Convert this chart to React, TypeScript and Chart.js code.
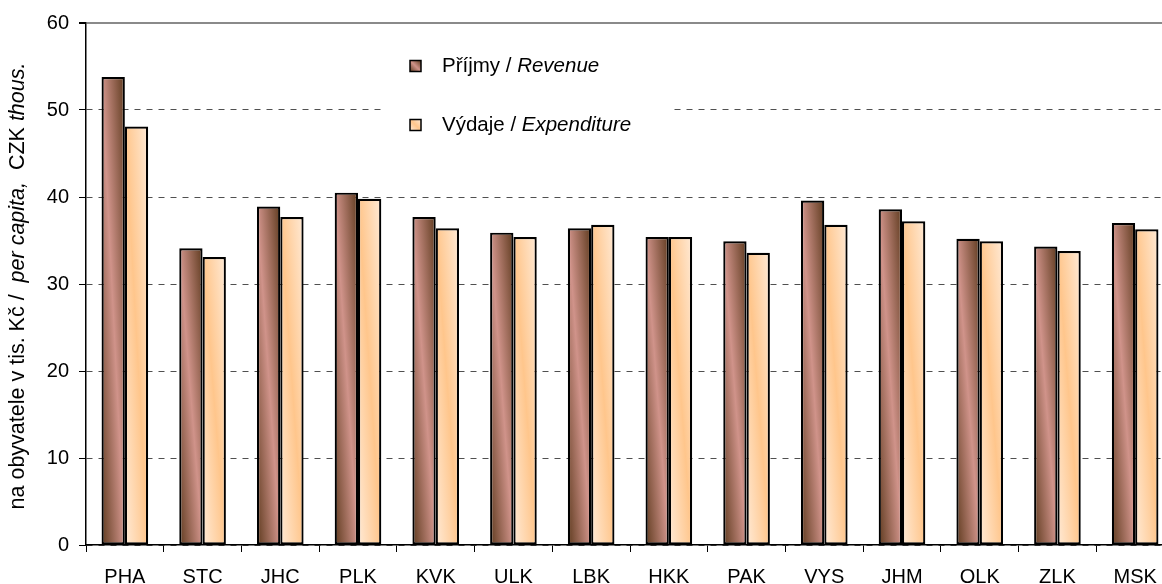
import React, { useEffect, useRef } from "react";
import { Chart, registerables } from "chart.js";

Chart.register(...registerables);

const categories = ["PHA", "STC", "JHC", "PLK", "KVK", "ULK", "LBK", "HKK", "PAK", "VYS", "JHM", "OLK", "ZLK", "MSK"];
const revenue = [53.8, 34.1, 38.9, 40.5, 37.7, 35.9, 36.4, 35.4, 34.9, 39.6, 38.6, 35.2, 34.3, 37.0];
const expenditure = [48.1, 33.1, 37.7, 39.8, 36.4, 35.4, 36.8, 35.4, 33.6, 36.8, 37.2, 34.9, 33.8, 36.3];
const yTicks = [0, 10, 20, 30, 40, 50, 60];
const revenueLabel: [string, boolean][] = [["Příjmy / ", false], ["Revenue", true]];
const expenditureLabel: [string, boolean][] = [["Výdaje / ", false], ["Expenditure", true]];
const yTitle: [string, boolean][] = [["na obyvatele v tis. Kč /  ", false], ["per capita,", true], ["  CZK ", false], ["thous.", true]];

const FONT = "'Liberation Sans', Arial, sans-serif";
const CAT_PCT = 0.6;
const REV_COLORS = ["#5f3b1f", "#d0938a"];
const EXP_COLORS = ["#ffead6", "#ffc68c"];

function diagGradient(c: CanvasRenderingContext2D, L: number, T: number, R: number, B: number, colors: string[]) {
  const w = R - L;
  const h = B - T;
  const len = Math.hypot(w, h) || 1;
  const nx = h / len;
  const ny = -w / len;
  const d = (w * h) / len || 1;
  const mx = (L + R) / 2;
  const my = (T + B) / 2;
  const g = c.createLinearGradient(mx - nx * d, my - ny * d, mx + nx * d, my + ny * d);
  g.addColorStop(0, colors[0]);
  g.addColorStop(0.5, colors[1]);
  g.addColorStop(1, colors[0]);
  return g;
}

function barFill(ctx: any, dsIndex: number, colors: string[]) {
  const chart = ctx.chart;
  const area = chart.chartArea;
  if (!area || ctx.type !== "data" || !chart.scales.x || !chart.scales.y) return colors[1];
  const xs = chart.scales.x;
  const ys = chart.scales.y;
  const cx = xs.getPixelForValue(ctx.dataIndex);
  const catW = area.width / categories.length;
  const groupW = catW * CAT_PCT;
  const L = dsIndex === 0 ? cx - groupW / 2 : cx;
  const R = L + groupW / 2;
  const T = ys.getPixelForValue(ctx.raw);
  const B = ys.getPixelForValue(0);
  return diagGradient(chart.ctx, L, T, R, B, colors);
}

function drawSegments(c: CanvasRenderingContext2D, segs: [string, boolean][], x: number, y: number, size: number, center: boolean) {
  const fontFor = (it: boolean) => `${it ? "italic " : ""}${size}px ${FONT}`;
  let total = 0;
  for (const [t, it] of segs) {
    c.font = fontFor(it);
    total += c.measureText(t).width;
  }
  let cx = center ? x - total / 2 : x;
  c.textBaseline = "middle";
  c.textAlign = "left";
  c.fillStyle = "#000";
  for (const [t, it] of segs) {
    c.font = fontFor(it);
    c.fillText(t, cx, y);
    cx += c.measureText(t).width;
  }
}

const decorPlugin = {
  id: "decor",
  afterDatasetsDraw(chart: any) {
    const c: CanvasRenderingContext2D = chart.ctx;
    c.save();
    c.fillStyle = "#ffffff";
    c.fillRect(383, 40, 286, 110);
    const items: [[string, boolean][], string[], number][] = [
      [revenueLabel, REV_COLORS, 66],
      [expenditureLabel, EXP_COLORS, 125],
    ];
    for (const [segs, colors, y] of items) {
      const s = 11;
      const x0 = 410;
      const y0 = y - s / 2;
      c.fillStyle = diagGradient(c, x0, y0, x0 + s, y0 + s, colors);
      c.fillRect(x0, y0, s, s);
      c.strokeStyle = "#000";
      c.lineWidth = 1.5;
      c.strokeRect(x0, y0, s, s);
      drawSegments(c, segs, 442, y, 20.5, false);
    }
    c.restore();
  },
  afterDraw(chart: any) {
    const c: CanvasRenderingContext2D = chart.ctx;
    const area = chart.chartArea;
    c.save();
    c.translate(18, (area.top + area.bottom) / 2 + 2);
    c.rotate(-Math.PI / 2);
    drawSegments(c, yTitle, 0, 0, 21.5, true);
    c.restore();
  },
};

export default function App() {
  const ref = useRef<HTMLCanvasElement>(null);

  useEffect(() => {
    if (!ref.current) return;
    const chart = new Chart(ref.current, {
      type: "bar",
      data: {
        labels: categories,
        datasets: [
          {
            label: "Příjmy / Revenue",
            data: revenue,
            backgroundColor: (ctx: any) => barFill(ctx, 0, REV_COLORS),
            borderColor: "#000",
            borderWidth: 2.2,
            borderSkipped: false,
          },
          {
            label: "Výdaje / Expenditure",
            data: expenditure,
            backgroundColor: (ctx: any) => barFill(ctx, 1, EXP_COLORS),
            borderColor: "#000",
            borderWidth: 2.2,
            borderSkipped: false,
          },
        ],
      },
      options: {
        responsive: false,
        animation: false,
        devicePixelRatio: 1,
        layout: { padding: { left: 0, top: 23, right: 0, bottom: 0 } },
        datasets: { bar: { categoryPercentage: CAT_PCT, barPercentage: 1 } },
        plugins: {
          legend: { display: false },
          tooltip: { enabled: false },
          title: { display: false },
        },
        scales: {
          x: {
            grid: {
              display: true,
              drawOnChartArea: false,
              drawTicks: true,
              tickLength: 7,
              tickColor: "#000",
              offset: true,
            },
            border: { display: true, color: "#000", width: 1.5 },
            ticks: {
              color: "#000",
              font: { family: FONT, size: 20 },
              padding: 13,
              maxRotation: 0,
              autoSkip: false,
            },
            afterFit: (s: any) => {
              s.height = 39;
            },
          },
          y: {
            min: 0,
            max: 60,
            afterBuildTicks: (s: any) => {
              s.ticks = yTicks.map((v) => ({ value: v }));
            },
            grid: {
              color: (ctx: any) => (ctx.tick && ctx.tick.value === 60 ? "#8a8a8a" : "#505050"),
              lineWidth: (ctx: any) => (ctx.tick && ctx.tick.value === 60 ? 2 : 1),
              drawTicks: true,
              tickLength: 7,
              tickColor: "#000",
            },
            border: {
              display: true,
              color: "#000",
              width: 1.5,
              dash: (ctx: any) => (ctx.tick && ctx.tick.value !== 60 ? [6, 6] : []),
            },
            ticks: {
              color: "#000",
              font: { family: FONT, size: 20 },
              padding: 10,
            },
            afterFit: (s: any) => {
              s.width = 86;
            },
          },
        },
      },
      plugins: [decorPlugin],
    } as any);
    return () => chart.destroy();
  }, []);

  return (
    <div
      style={{
        position: "absolute",
        left: 0,
        top: 0,
        width: 1162,
        height: 584,
        overflow: "hidden",
        background: "#fff",
      }}
    >
      <canvas ref={ref} width={1174} height={584} style={{ display: "block", width: 1174, height: 584 }} />
    </div>
  );
}
